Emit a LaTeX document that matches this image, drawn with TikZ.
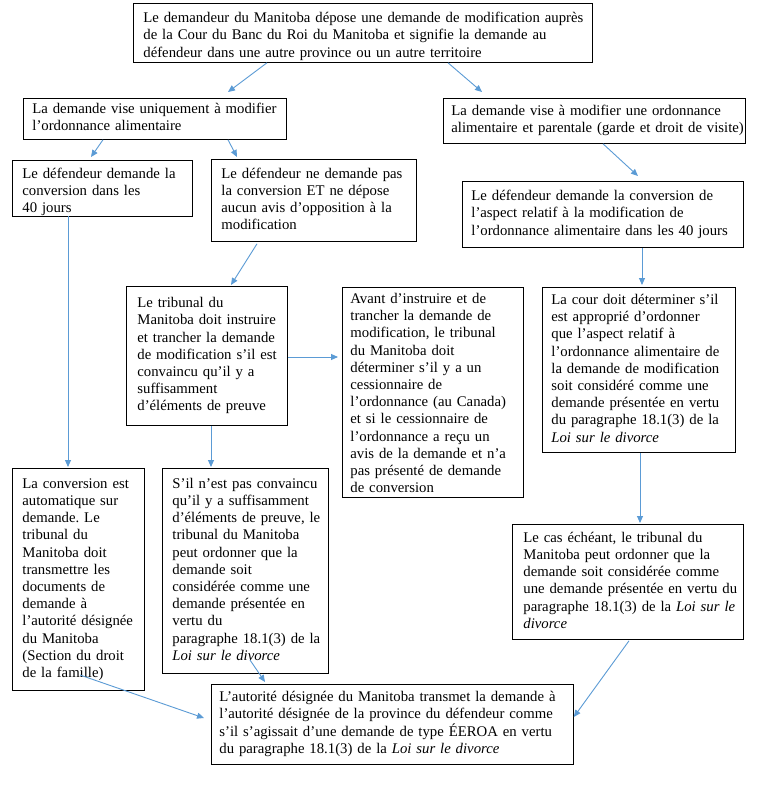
\documentclass[tikz,border=0pt]{standalone}
\usepackage{fontspec}
\setmainfont{Liberation Serif}
\usetikzlibrary{arrows.meta,calc}
\definecolor{arrowblue}{HTML}{5B9BD5}
\frenchspacing
\newcommand\boxlines[1]{\begin{tabular}[c]{@{}l@{}}#1\end{tabular}}
\newcommand\boxlinesdown[2]{\raisebox{-#1}[\height][\depth]{\boxlines{#2}}}
\begin{document}
\begin{tikzpicture}[x=1pt,y=-1pt,
  box/.style={draw=black, line width=0.8pt, anchor=north west, align=left,
    inner ysep=2pt, font=\fontsize{14.75}{17.2}\selectfont},
  arr/.style={draw=arrowblue, line width=0.9pt, -{Triangle[length=7pt,width=6pt]}}]
\fill[white] (0,0) rectangle (760,792);
\useasboundingbox (0,0) rectangle (760,792);

\node[box, inner xsep=10pt, text width=439pt, minimum height=59pt] (A) at (133,3)
 {\boxlinesdown{3.5pt}{Le demandeur du Manitoba dépose une demande de modification auprès\\
  de la Cour du Banc du Roi du Manitoba et signifie la demande au\\
  défendeur dans une autre province ou un autre territoire}};

\node[box, inner xsep=9pt, text width=245pt, minimum height=41pt] (B) at (23,98)
 {\boxlines{La demande vise uniquement à modifier\\ l’ordonnance alimentaire}};

\node[box, inner xsep=8pt, text width=286pt, minimum height=45pt] (C) at (443,98)
 {\boxlines{La demande vise à modifier une ordonnance\\ alimentaire et parentale (garde et droit de visite)}};

\node[box, inner xsep=10pt, text width=160pt, minimum height=52pt] (D) at (12,160)
 {\boxlinesdown{4pt}{Le défendeur demande la\\ conversion dans les\\ 40 jours}};

\node[box, inner xsep=10pt, text width=185pt, minimum height=82pt] (E) at (211,159)
 {\boxlines{Le défendeur ne demande pas\\ la conversion ET ne dépose\\ aucun avis d’opposition à la\\ modification}};

\node[box, inner xsep=9pt, text width=263pt, minimum height=66pt] (F) at (462,181)
 {\boxlines{Le défendeur demande la conversion de\\ l’aspect relatif à la modification de\\ l’ordonnance alimentaire dans les 40 jours}};

\node[box, inner xsep=11pt, text width=139pt, minimum height=139pt] (G) at (126,286)
 {\boxlines{Le tribunal du\\ Manitoba doit instruire\\ et trancher la demande\\ de modification s’il est\\ convaincu qu’il y a\\ suffisamment\\ d’éléments de preuve}};

\node[box, inner xsep=8pt, text width=165pt, minimum height=208pt] (H) at (342,287)
 {\boxlinesdown{2pt}{Avant d’instruire et de\\ trancher la demande de\\ modification, le tribunal\\ du Manitoba doit\\ déterminer s’il y a un\\ cessionnaire de\\ l’ordonnance (au Canada)\\ et si le cessionnaire de\\ l’ordonnance a reçu un\\ avis de la demande et n’a\\ pas présenté de demande\\ de conversion}};

\node[box, inner xsep=9pt, text width=175pt, minimum height=165pt] (I) at (542,287)
 {\boxlines{La cour doit déterminer s’il\\ est approprié d’ordonner\\ que l’aspect relatif à\\ l’ordonnance alimentaire de\\ la demande de modification\\ soit considéré comme une\\ demande présentée en vertu\\ du paragraphe 18.1(3) de la\\ \textit{Loi sur le divorce}}};

\node[box, inner xsep=10pt, text width=112pt, minimum height=222pt] (J) at (12,468)
 {\boxlines{La conversion est\\ automatique sur\\ demande. Le\\ tribunal du\\ Manitoba doit\\ transmettre les\\ documents de\\ demande à\\ l’autorité désignée\\ du Manitoba\\ (Section du droit\\ de la famille)}};

\node[box, inner xsep=10pt, text width=146pt, minimum height=205pt] (K) at (162,468)
 {\boxlines{S’il n’est pas convaincu\\ qu’il y a suffisamment\\ d’éléments de preuve, le\\ tribunal du Manitoba\\ peut ordonner que la\\ demande soit\\ considérée comme une\\ demande présentée en\\ vertu du\\ paragraphe 18.1(3) de la\\ \textit{Loi sur le divorce}}};

\node[box, inner xsep=11pt, text width=209pt, minimum height=115pt] (M) at (512,524)
 {\boxlines{Le cas échéant, le tribunal du\\ Manitoba peut ordonner que la\\ demande soit considérée comme\\ une demande présentée en vertu du\\ paragraphe 18.1(3) de la \textit{Loi sur le}\\ \textit{divorce}}};

\node[box, inner xsep=8pt, text width=346pt, minimum height=80pt] (L) at (211,684)
 {\boxlines{L’autorité désignée du Manitoba transmet la demande à\\ l’autorité désignée de la province du défendeur comme\\ s’il s’agissait d’une demande de type ÉEROA en vertu\\ du paragraphe 18.1(3) de la \textit{Loi sur le divorce}}};

\draw[arr] ($(A.south west)+(134,0)$) -- ($(B.north west)+(205,-6)$);
\draw[arr] ($(A.south west)+(315,0)$) -- ($(C.north west)+(39,-6)$);
\draw[arr] ($(B.south west)+(80,0)$) -- ($(D.north west)+(79,-3)$);
\draw[arr] ($(B.south west)+(205,0)$) -- ($(E.north west)+(26,-2)$);
\draw[arr] ($(C.south west)+(160,0)$) -- ($(F.north west)+(176,-5)$);
\draw[arr] ($(D.south west)+(56,0)$) -- ($(J.north west)+(56,-1)$);
\draw[arr] ($(E.south west)+(46,2)$) -- ($(G.north west)+(105,-1)$);
\draw[arr] ($(G.north east)+(0,71)$) -- ($(H.north west)+(-4,70)$);
\draw[arr] ($(G.south west)+(85,0)$) -- ($(K.north west)+(49,-1)$);
\draw[arr] ($(F.south west)+(180,0)$) -- ($(I.north west)+(100,-2)$);
\draw[arr] ($(I.south west)+(98,0)$) -- ($(M.north west)+(128,-1)$);
\draw[arr] ($(J.north west)+(68,207)$) -- ($(L.north west)+(-7,34)$);
\draw[arr] ($(K.north west)+(88,192)$) -- ($(L.north west)+(54,-2)$);
\draw[arr] ($(M.south west)+(117,1)$) -- ($(L.north east)+(0,33)$);
\end{tikzpicture}
\end{document}
